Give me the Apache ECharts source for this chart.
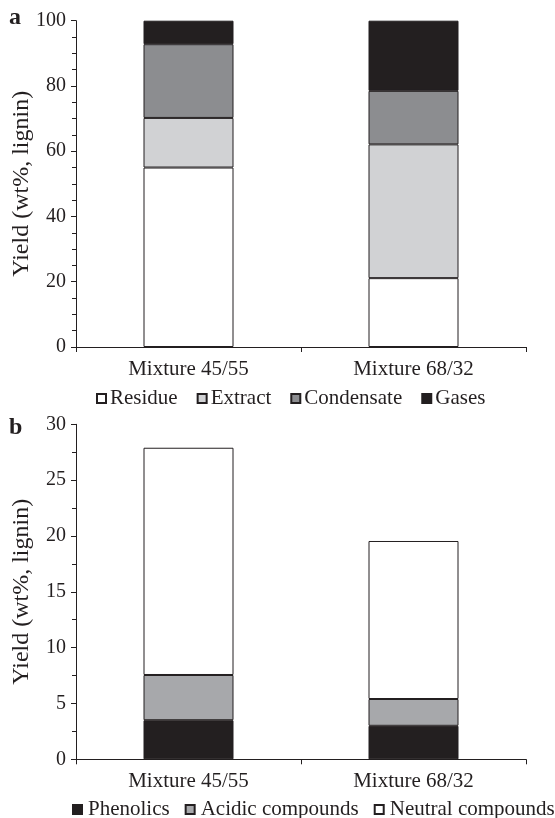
<!DOCTYPE html>
<html>
<head>
<meta charset="utf-8">
<script src="https://cdn.jsdelivr.net/npm/echarts@6/dist/echarts.min.js"></script>
<style>html,body{margin:0;padding:0;background:#fff}#c{width:555px;height:818px}</style>
</head>
<body>
<div id="c"></div>
<script>
var categories = ['Mixture 45/55', 'Mixture 68/32'];
// Panel a (wt%, lignin)
var residue = [55.0, 21.1];
var extract = [15.2, 41.0];
var condensate = [22.6, 16.4];
var gases = [7.2, 21.5];
// Panel b (wt%, lignin)
var phenolics = [3.5, 3.0];
var acidic = [4.05, 2.4];
var neutral = [20.35, 14.15];
var ticksA = [0, 20, 40, 60, 80, 100];
var ticksB = [0, 5, 10, 15, 20, 25, 30];

var FONT = '"Liberation Serif", "Times New Roman", serif';
var INK = '#231f20';

function yAxis(idx, max, interval, split, gap) {
  return {
    type: 'value', gridIndex: idx, min: 0, max: max, interval: interval,
    name: 'Yield (wt%, lignin)', nameLocation: 'middle', nameGap: gap,
    nameMoveOverlap: false,
    nameTextStyle: {fontFamily: FONT, fontSize: 24, color: INK},
    axisLine: {show: true, lineStyle: {color: INK, width: 1}},
    axisTick: {show: true, inside: false, length: 5, lineStyle: {color: INK}},
    minorTick: {show: true, splitNumber: split, length: 4, lineStyle: {color: INK}},
    axisLabel: {fontFamily: FONT, fontSize: 20, color: INK, margin: 10},
    splitLine: {show: false}
  };
}
function xAxis(idx) {
  return {
    type: 'category', gridIndex: idx, data: categories,
    axisLine: {show: true, lineStyle: {color: INK, width: 1}},
    axisTick: {show: true, length: 5, interval: 0, lineStyle: {color: INK}},
    axisLabel: {fontFamily: FONT, fontSize: 21, color: INK, margin: 12},
    splitLine: {show: false}
  };
}
function bar(name, data, color, idx, stack) {
  return {
    name: name, type: 'bar', data: data, stack: stack,
    xAxisIndex: idx, yAxisIndex: idx, barWidth: '40%',
    itemStyle: {color: color, borderColor: INK, borderWidth: 1},
    emphasis: {disabled: true}, animation: false
  };
}

var chart = echarts.init(document.getElementById('c'), null, {renderer: 'canvas'});
chart.setOption({
  animation: false,
  backgroundColor: '#fff',
  grid: [
    {left: 76, right: 29, top: 20.7, height: 326.3, outerBoundsMode: 'none', containLabel: false},
    {left: 76, right: 29, top: 424.3, height: 335, outerBoundsMode: 'none', containLabel: false}
  ],
  xAxis: [xAxis(0), xAxis(1)],
  yAxis: [yAxis(0, 100, 20, 4, 42), yAxis(1, 30, 5, 2, 42)],
  legend: [
    {
      data: ['Residue', 'Extract', 'Condensate', 'Gases'],
      left: 91, top: 383, width: 460, itemWidth: 9, itemHeight: 9, itemGap: 19,
      icon: 'rect',
      textStyle: {fontFamily: FONT, fontSize: 21, color: INK, padding: [0, 0, 0, -1]},
      selectedMode: false
    },
    {
      data: ['Phenolics', 'Acidic compounds', 'Neutral compounds'],
      left: 67, top: 794, width: 488, itemWidth: 9, itemHeight: 9, itemGap: 15,
      icon: 'rect',
      textStyle: {fontFamily: FONT, fontSize: 21, color: INK, padding: [0, 0, 0, 1]},
      selectedMode: false
    }
  ],
  graphic: [
    {type: 'text', left: 9, top: 6, style: {text: 'a', font: 'bold 24px ' + FONT, fill: INK}},
    {type: 'text', left: 9, top: 416, style: {text: 'b', font: 'bold 24px ' + FONT, fill: INK}}
  ],
  series: [
    bar('Residue', residue, '#ffffff', 0, 'a'),
    bar('Extract', extract, '#d1d2d4', 0, 'a'),
    bar('Condensate', condensate, '#8c8d90', 0, 'a'),
    bar('Gases', gases, '#231f20', 0, 'a'),
    bar('Phenolics', phenolics, '#231f20', 1, 'b'),
    bar('Acidic compounds', acidic, '#a7a8ab', 1, 'b'),
    bar('Neutral compounds', neutral, '#ffffff', 1, 'b')
  ]
});
</script>
</body>
</html>
